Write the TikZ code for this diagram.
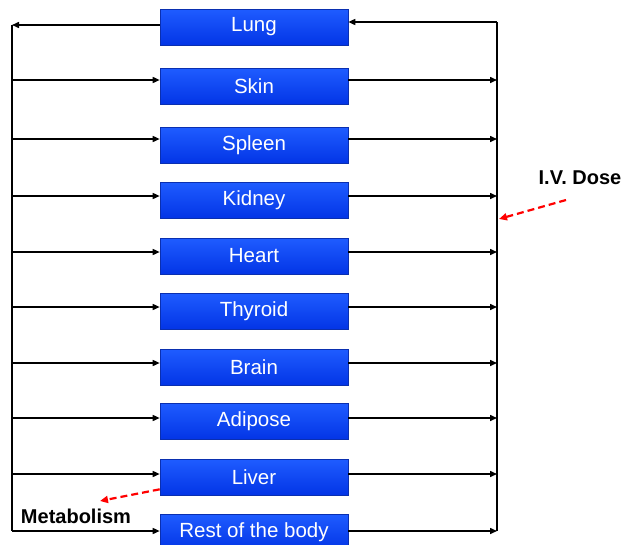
\documentclass[tikz,border=0pt]{standalone}
\usepackage{fontspec}
\setmainfont{Liberation Sans}
\usetikzlibrary{arrows.meta}
\definecolor{boxtop}{HTML}{1F5CFF}
\definecolor{boxbot}{HTML}{0335E6}
\definecolor{boxline}{HTML}{0A2FB0}
\tikzset{
  organ/.style={rectangle, minimum width=188pt, minimum height=36pt, inner sep=0pt,
    top color=boxtop, bottom color=boxbot, draw=boxline, line width=0.6pt,
    text=white, font=\fontsize{20.5}{24}\selectfont},
  flow/.style={line width=1.5pt, -{Triangle[length=7pt,width=6pt]}},
  elim/.style={red, line width=2.2pt, dash pattern=on 7pt off 4pt, -{Triangle[length=8pt,width=7pt]}},
  lbl/.style={font=\fontsize{20}{24}\selectfont\bfseries}
}
\begin{document}
\begin{tikzpicture}[x=1pt,y=-1pt]
  \useasboundingbox (0,0) rectangle (626,544);
  % Organs
  \node[organ] (lung) at (254,27) {Lung};
  \node[organ] (skin) at (254,86) {Skin};
  \node[organ] (spleen) at (254,145) {Spleen};
  \node[organ] (kidney) at (254,200) {Kidney};
  \node[organ] (heart) at (254,256) {Heart};
  \node[organ] (thyroid) at (254,311) {Thyroid};
  \node[organ] (brain) at (254,367) {Brain};
  \node[organ] (adipose) at (254,421) {Adipose};
  \node[organ] (liver) at (254,477) {Liver};
  \node[organ] (rest) at (254,532) {Rest of the body};
  % Arterial and venous lines
  \coordinate (ltop) at (12,25);
  \coordinate (lbot) at (12,531);
  \coordinate (rtop) at (497,22);
  \coordinate (rbot) at (497,531);
  \draw[line width=1.7pt] (ltop) -- (lbot);
  \draw[line width=1.7pt] (rtop) -- (rbot);
  % Lung
  \draw[flow] (lung.west |- ltop) -- (ltop);
  \draw[flow] (rtop) -- (lung.east |- rtop);
  % Other organs
  \foreach \o/\s in {skin/6,spleen/6,kidney/4,heart/4,thyroid/4,brain/4,adipose/3,liver/3,rest/1}{
    \coordinate (in) at ([yshift=\s pt]\o.west);
    \draw[flow] (ltop |- in) -- (in);
    \coordinate (out) at ([yshift=\s pt]\o.east);
    \draw[flow] (out) -- (rtop |- out);
  }
  % Dose
  \node[lbl] (dose) at (580,178) {I.V. Dose};
  \coordinate (dosetail) at (566,200);
  \draw[elim] (dosetail) -- (499,219);
  % Metabolism
  \node[lbl] (metab) at (76,516) {Metabolism};
  \draw[elim] (liver.south west) ++(0,-6) -- (100,501);
\end{tikzpicture}
\end{document}
